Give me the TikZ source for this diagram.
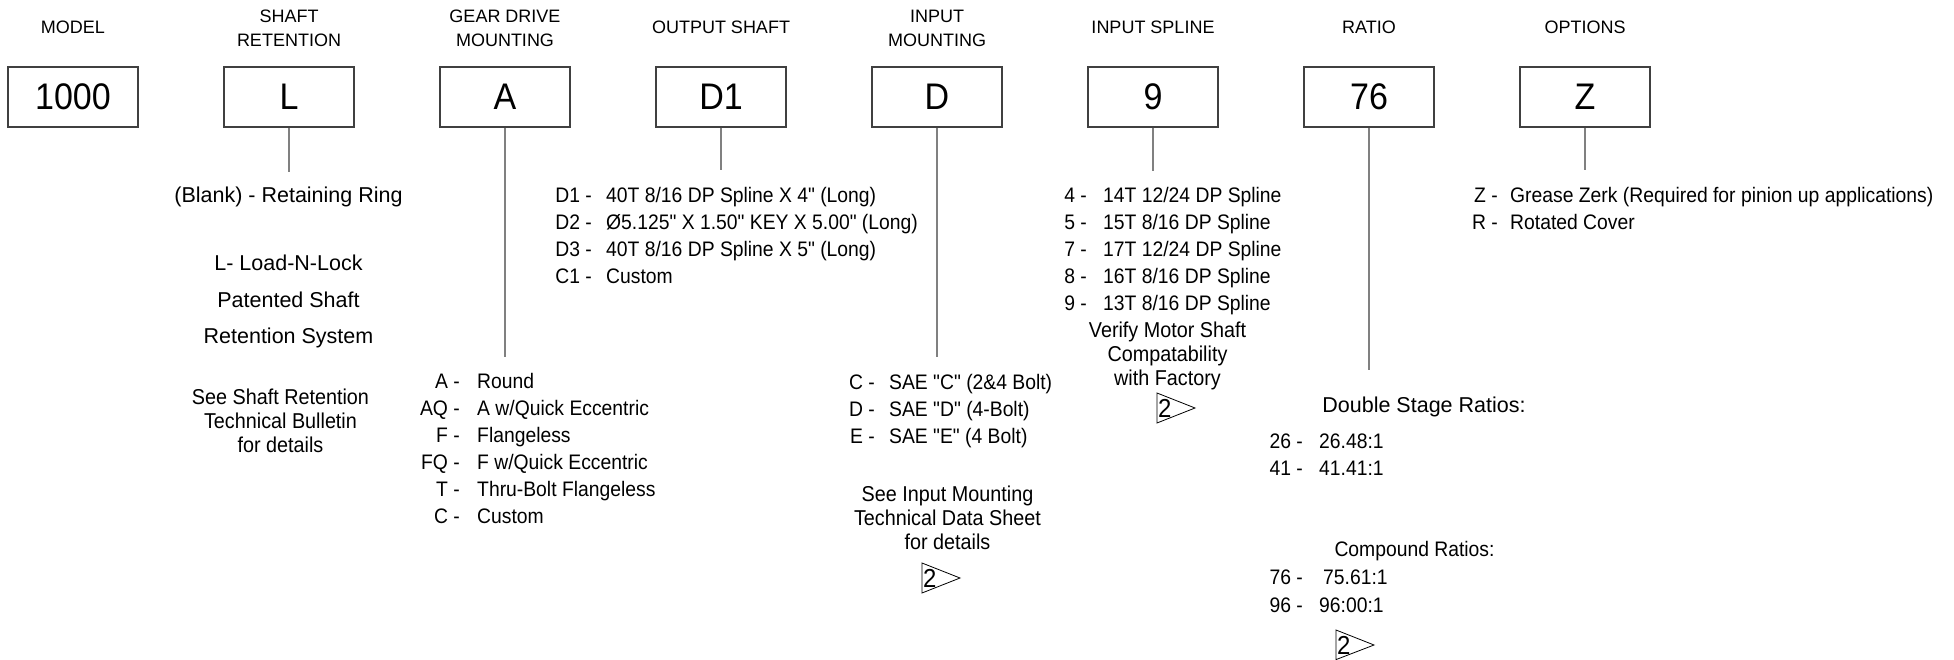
\documentclass[tikz,border=0pt]{standalone}
\usepackage{fontspec}
\setmainfont{Liberation Sans}
\newfontfamily\condfont[FakeStretch=0.92]{Liberation Sans}
\newcommand\myhdr{\fontsize{18}{23.3}\selectfont}
\newcommand\mybox{\condfont\fontsize{37}{40}\selectfont}
\newcommand\mylst{\condfont\fontsize{21}{27}\selectfont}
\newcommand\mytxt{\fontsize{21.5}{25}\selectfont}
\newcommand\mynote{\condfont\fontsize{21.5}{24}\selectfont}
\newcommand\myflag{\condfont\fontsize{26}{28}\selectfont}
\definecolor{boxgray}{HTML}{404040}
\definecolor{conngray}{HTML}{808080}
\tikzset{
  codebox/.style={draw=boxgray, line width=1.3pt, fill=white, minimum width=130pt, minimum height=60pt, inner sep=0pt, font=\mybox},
  hdr/.style={font=\myhdr, align=center, inner sep=0pt},
  conn/.style={draw=conngray, line width=2pt},
  lab/.style={anchor=base east, inner sep=0pt, font=\mylst},
  itm/.style={anchor=base west, inner sep=0pt, font=\mylst},
  txt/.style={anchor=base, inner sep=0pt, font=\mytxt},
  ctxt/.style={anchor=base, inner sep=0pt, font=\mylst},
  note/.style={align=center, inner sep=0pt, font=\mynote},
  flagtri/.style={draw=black, line width=0.8pt},
  flagnum/.style={anchor=west, inner sep=0pt, font=\myflag}
}
\begin{document}
\begin{tikzpicture}[x=1pt, y=-1pt]
\useasboundingbox (0,0) rectangle (1954,660);
% headers
\node[hdr] (hModel) at (73,27.5) {MODEL};
\node[hdr] (hShaft) at (289,28.3) {SHAFT\\RETENTION};
\node[hdr] (hGear) at (505,28.3) {GEAR DRIVE\\MOUNTING};
\node[hdr] (hOut) at (721,27.5) {OUTPUT SHAFT};
\node[hdr] (hIn) at (937,28.3) {INPUT\\MOUNTING};
\node[hdr] (hSpl) at (1153,27.5) {INPUT SPLINE};
\node[hdr] (hRat) at (1369,27.5) {RATIO};
\node[hdr] (hOpt) at (1585,27.5) {OPTIONS};
% code boxes
\node[codebox] (bModel) at (73,97) {1000};
\node[codebox] (bShaft) at (289,97) {L};
\node[codebox] (bGear) at (505,97) {A};
\node[codebox] (bOut) at (721,97) {D1};
\node[codebox] (bIn) at (937,97) {D};
\node[codebox] (bSpl) at (1153,97) {9};
\node[codebox] (bRat) at (1369,97) {76};
\node[codebox] (bOpt) at (1585,97) {Z};
% connector ends
\coordinate (eShaft) at (289,172);
\coordinate (eGear) at (505,357);
\coordinate (eOut) at (721,170);
\coordinate (eIn) at (937,357);
\coordinate (eSpl) at (1153,171);
\coordinate (eRat) at (1369,370);
\coordinate (eOpt) at (1585,170);
\draw[conn] (bShaft.south) -- (eShaft);
\draw[conn] (bGear.south) -- (eGear);
\draw[conn] (bOut.south) -- (eOut);
\draw[conn] (bIn.south) -- (eIn);
\draw[conn] (bSpl.south) -- (eSpl);
\draw[conn] (bRat.south) -- (eRat);
\draw[conn] (bOpt.south) -- (eOpt);
% shaft retention
\node[txt] (sBlank) at (288.5,202.7) {(Blank) - Retaining Ring};
\node[txt] (sL1) at (288.5,270.7) {L- Load-N-Lock};
\node[txt] (sL2) at (288.5,307.7) {Patented Shaft};
\node[txt] (sL3) at (288.5,343.7) {Retention System};
\node[note] (sNote) at (280.5,421) {See Shaft Retention\\Technical Bulletin\\for details};
% gear drive mounting
\node[lab] (gL1) at (460,388.5) {A -};   \node[itm] (gI1) at (477,388.5) {Round};
\node[lab] (gL2) at (460,415.5) {AQ -};  \node[itm] (gI2) at (477,415.5) {A w/Quick Eccentric};
\node[lab] (gL3) at (460,442.5) {F -};   \node[itm] (gI3) at (477,442.5) {Flangeless};
\node[lab] (gL4) at (460,469.5) {FQ -};  \node[itm] (gI4) at (477,469.5) {F w/Quick Eccentric};
\node[lab] (gL5) at (460,496.5) {T -};   \node[itm] (gI5) at (477,496.5) {Thru-Bolt Flangeless};
\node[lab] (gL6) at (460,523.5) {C -};   \node[itm] (gI6) at (477,523.5) {Custom};
% output shaft
\node[lab] (oL1) at (592,202.5) {D1 -}; \node[itm] (oI1) at (606,202.5) {40T 8/16 DP Spline X 4" (Long)};
\node[lab] (oL2) at (592,229.5) {D2 -}; \node[itm] (oI2) at (606,229.5) {Ø5.125" X 1.50" KEY X 5.00" (Long)};
\node[lab] (oL3) at (592,256.5) {D3 -}; \node[itm] (oI3) at (606,256.5) {40T 8/16 DP Spline X 5" (Long)};
\node[lab] (oL4) at (592,283.5) {C1 -}; \node[itm] (oI4) at (606,283.5) {Custom};
% input mounting
\node[lab] (mL1) at (875,389.5) {C -}; \node[itm] (mI1) at (889,389.5) {SAE "C" (2\&4 Bolt)};
\node[lab] (mL2) at (875,416.5) {D -}; \node[itm] (mI2) at (889,416.5) {SAE "D" (4-Bolt)};
\node[lab] (mL3) at (875,443.5) {E -}; \node[itm] (mI3) at (889,443.5) {SAE "E" (4 Bolt)};
\node[note] (mNote) at (947.5,517.4) {See Input Mounting\\Technical Data Sheet\\for details};
\draw[flagtri] (922,563) coordinate (fA1) -- (922,593) -- (960,578) -- cycle;
\node[flagnum] (fA) at (923,578) {2};
% input spline
\node[lab] (pL1) at (1087,202.5) {4 -}; \node[itm] (pI1) at (1103,202.5) {14T 12/24 DP Spline};
\node[lab] (pL2) at (1087,229.5) {5 -}; \node[itm] (pI2) at (1103,229.5) {15T 8/16 DP Spline};
\node[lab] (pL3) at (1087,256.5) {7 -}; \node[itm] (pI3) at (1103,256.5) {17T 12/24 DP Spline};
\node[lab] (pL4) at (1087,283.5) {8 -}; \node[itm] (pI4) at (1103,283.5) {16T 8/16 DP Spline};
\node[lab] (pL5) at (1087,310.5) {9 -}; \node[itm] (pI5) at (1103,310.5) {13T 8/16 DP Spline};
\node[note] (pNote) at (1167.5,356) {Verify Motor Shaft\\Compatability\\with Factory};
\draw[flagtri] (1157,393) coordinate (fB1) -- (1157,423) -- (1195,408) -- cycle;
\node[flagnum] (fB) at (1158,408) {2};
% ratio
\node[txt] (rDouble) at (1424,412.7) {Double Stage Ratios:};
\node[lab] (rL1) at (1303,448.5) {26 -}; \node[itm] (rI1) at (1319,448.5) {26.48:1};
\node[lab] (rL2) at (1303,475.5) {41 -}; \node[itm] (rI2) at (1319,475.5) {41.41:1};
\node[ctxt] (rComp) at (1414.5,556.5) {Compound Ratios:};
\node[lab] (rL3) at (1303,584.5) {76 -}; \node[itm] (rI3) at (1323,584.5) {75.61:1};
\node[lab] (rL4) at (1303,612.5) {96 -}; \node[itm] (rI4) at (1319,612.5) {96:00:1};
\draw[flagtri] (1336,630) coordinate (fC1) -- (1336,659.6) -- (1374,645) -- cycle;
\node[flagnum] (fC) at (1337,645) {2};
% options
\node[lab] (zL1) at (1498,202.5) {Z -}; \node[itm] (zI1) at (1510,202.5) {Grease Zerk (Required for pinion up applications)};
\node[lab] (zL2) at (1498,229.5) {R -}; \node[itm] (zI2) at (1510,229.5) {Rotated Cover};
\end{tikzpicture}
\end{document}
